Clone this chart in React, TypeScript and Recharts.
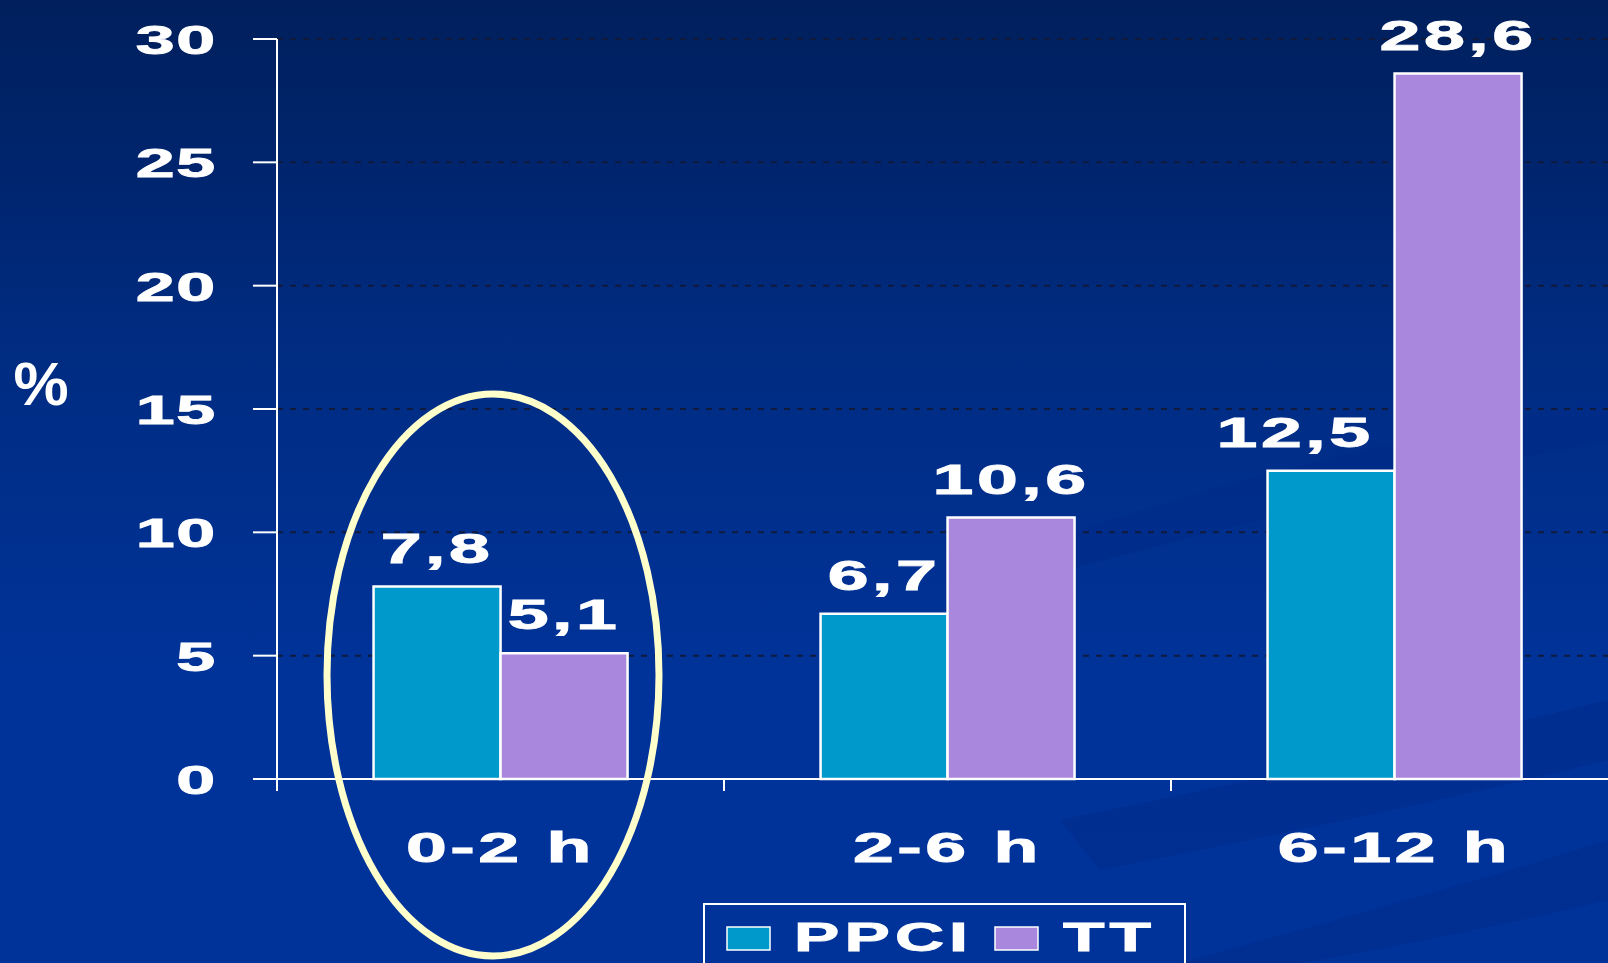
import React from 'react';
import { BarChart, Bar, XAxis, YAxis, CartesianGrid, LabelList } from 'recharts';

const categories = ['0-2 h', '2-6 h', '6-12 h'];
const ppci = [7.8, 6.7, 12.5];
const tt = [5.1, 10.6, 28.6];
const yTicks = [0, 5, 10, 15, 20, 25, 30];
const seriesNames = ['PPCI', 'TT'];

const COLORS = ['#0099CC', '#A887DD'];
const FONT = '"Liberation Sans", Arial, Helvetica, sans-serif';

const CHART_W = 1620;
const CHART_H = 963;
const Y_AXIS_W = 277;
const MARGIN = { top: 39, right: 2, left: 0, bottom: 84 };
const BAND = (CHART_W - MARGIN.left - MARGIN.right - Y_AXIS_W) / categories.length;

const data = categories.map((c, i) => ({ name: c, PPCI: ppci[i], TT: tt[i] }));

const fmt = (v: number) => String(v).replace('.', ',');

function WideText({ x, y, text, size = 40, anchor = 'middle', sx = 1.75, ls = 2 }: any) {
  return (
    <text
      transform={`translate(${x},${y}) scale(${sx},1)`}
      textAnchor={anchor}
      fill="#ffffff"
      stroke="#ffffff"
      strokeWidth={0.9}
      fontFamily={FONT}
      fontWeight="bold"
      fontSize={size}
      letterSpacing={ls}
    >
      {text}
    </text>
  );
}

const YTick = (props: any) => {
  const { x, y, payload } = props;
  return <WideText x={x} y={y + 15} text={payload.value} size={40} anchor="end" ls={1} />;
};

const XTick = (props: any) => {
  const { x, y, payload } = props;
  return (
    <g>
      <line x1={x - BAND / 2} x2={x - BAND / 2} y1={y - 12} y2={y} stroke="#ffffff" strokeWidth={2} />
      <WideText x={x} y={y + 71} text={payload.value} size={42} />
    </g>
  );
};

// PPCI labels that are wider than their bar and sit next to a taller TT bar move left
const makeLabel = (seriesIdx: number) => (props: any) => {
  const { x, y, width, value, index } = props;
  const text = fmt(value);
  const approxW = text.length * 37;
  if (seriesIdx === 0 && tt[index] > value && approxW > width) {
    return <WideText x={x + width - 21} y={y - 24} text={text} size={42} anchor="end" />;
  }
  return <WideText x={x + width / 2} y={y - 24} text={text} size={42} />;
};

export default function App() {
  return (
    <div
      style={{
        position: 'absolute',
        left: 0,
        top: 0,
        width: 1608,
        height: 963,
        overflow: 'hidden',
        background: 'linear-gradient(180deg, #001f5c 0%, #002b80 35%, #003399 70%, #00339a 100%)',
      }}
    >
      <svg width={1608} height={963} style={{ position: 'absolute', left: 0, top: 0 }}>
        <path d="M1000 560 C 1200 480, 1450 430, 1608 400 L1608 440 C 1450 470, 1250 520, 1030 580 Z" fill="#002a88" opacity={0.5} />
        <path d="M1060 820 C 1250 780, 1450 740, 1608 700 L1608 760 C 1450 800, 1250 840, 1100 870 Z" fill="#002a88" opacity={0.5} />
        <path d="M1180 963 C 1300 930, 1450 890, 1608 840 L1608 900 C 1480 930, 1380 950, 1300 963 Z" fill="#002a88" opacity={0.5} />
      </svg>
      <div style={{ position: 'absolute', left: 0, top: 0 }}>
        <BarChart
          width={CHART_W}
          height={CHART_H}
          data={data}
          margin={MARGIN}
          barCategoryGap="21.6%"
          barGap={0}
        >
          <CartesianGrid vertical={false} stroke="#101a3c" strokeDasharray="6 7" strokeWidth={2} />
          <XAxis
            dataKey="name"
            height={100}
            axisLine={{ stroke: '#ffffff', strokeWidth: 2 }}
            tickLine={false}
            tickSize={12}
            tickMargin={0}
            tick={<XTick />}
            interval={0}
          />
          <YAxis
            width={Y_AXIS_W}
            domain={[0, 30]}
            ticks={yTicks}
            axisLine={{ stroke: '#ffffff', strokeWidth: 2 }}
            tickLine={{ stroke: '#ffffff', strokeWidth: 2 }}
            tickSize={24}
            tickMargin={36}
            tick={<YTick />}
            interval={0}
          />
          {seriesNames.map((s, i) => (
            <Bar key={s} dataKey={s} fill={COLORS[i]} stroke="#ffffff" strokeWidth={2.5} isAnimationActive={false}>
              <LabelList dataKey={s} content={makeLabel(i)} />
            </Bar>
          ))}
        </BarChart>
      </div>
      <svg width={1608} height={963} style={{ position: 'absolute', left: 0, top: 0, pointerEvents: 'none' }}>
        <ellipse cx={493} cy={675} rx={166} ry={281} fill="none" stroke="#FFFFCC" strokeWidth={7} />
        <text x={41} y={405} textAnchor="middle" fill="#ffffff" fontFamily={FONT} fontWeight="bold" fontSize={62}>
          %
        </text>
        <rect x={704} y={904} width={481} height={90} fill="none" stroke="#ffffff" strokeWidth={2} />
        {seriesNames.map((s, i) => {
          const sx = i === 0 ? 727 : 995;
          const tx = i === 0 ? 794 : 1063;
          return (
            <g key={s}>
              <rect x={sx} y={927} width={43} height={23} fill={COLORS[i]} stroke="#ffffff" strokeWidth={1.5} />
              <WideText x={tx} y={951} text={s} size={40} anchor="start" sx={1.7} ls={3} />
            </g>
          );
        })}
      </svg>
    </div>
  );
}
